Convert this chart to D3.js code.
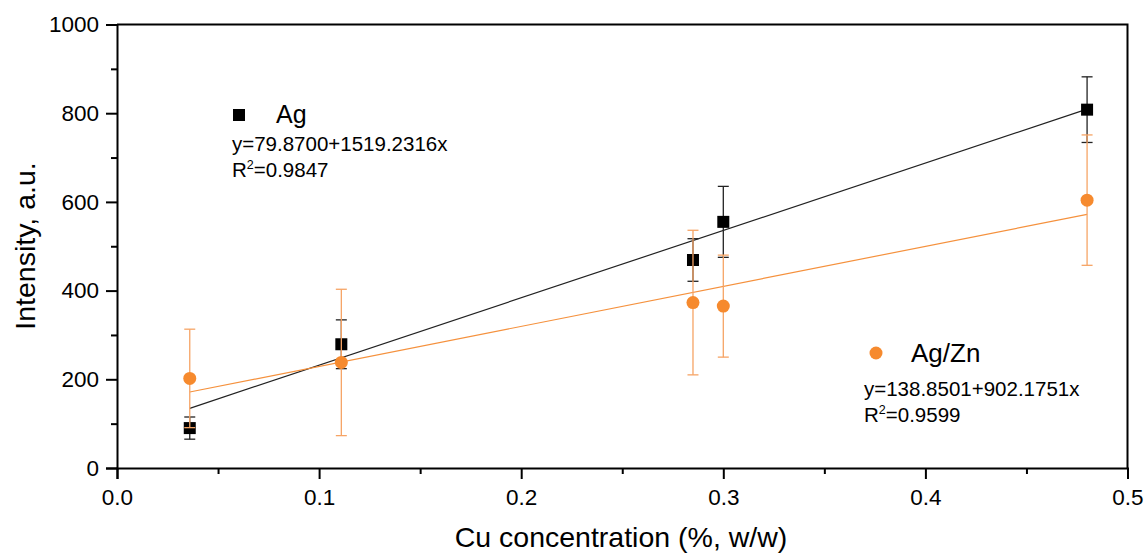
<!DOCTYPE html>
<html>
<head>
<meta charset="utf-8">
<script src="https://cdn.jsdelivr.net/npm/d3@7"></script>
<style>
  html, body { margin: 0; padding: 0; background: #fff; }
  svg { display: block; font-family: "Liberation Sans", Arial, sans-serif; }
</style>
</head>
<body>
<svg id="chart" width="1146" height="554"></svg>
<script>
// ---- data ----
const concentrations = [0.036, 0.111, 0.285, 0.300, 0.480];
const agValues   = [90, 279, 469, 555, 808];
const agErrors   = [25, 55, 48, 80, 74];
const agznValues = [202, 238, 373, 365, 604];
const agznErrors = [111, 165, 163, 115, 147];
const agFit   = { intercept: 79.8700,  slope: 1519.2316, r2: "0.9847" };
const agznFit = { intercept: 138.8501, slope: 902.1751,  r2: "0.9599" };
const xTicks = [0, 0.1, 0.2, 0.3, 0.4, 0.5];
const xMinor = [0.05, 0.15, 0.25, 0.35, 0.45];
const yTicks = [0, 200, 400, 600, 800, 1000];
const yMinor = [100, 300, 500, 700, 900];

const orange = "#f68a2e";
const orangeLight = "#f6a465";
const black = "#000";

const svg = d3.select("#chart");
const pLeft = 117, pRight = 1127.5, pTop = 24.5, pBottom = 468;

const x = d3.scaleLinear().domain([0, 0.5]).range([pLeft, pRight]);
const y = d3.scaleLinear().domain([0, 1000]).range([pBottom, pTop]);

// frame (top and right)
svg.append("path")
  .attr("d", `M${pLeft},${pTop}H${pRight}V${pBottom}`)
  .attr("fill", "none").attr("stroke", "#000").attr("stroke-width", 2);

// axes
const xAxis = d3.axisBottom(x).tickValues(xTicks).tickFormat(d3.format(".1f")).tickSizeOuter(0).tickSize(11).tickPadding(10);
const gx = svg.append("g").attr("transform", `translate(0,${pBottom})`).call(xAxis);
gx.selectAll(".tick text").attr("font-size", 22.5).attr("fill", "#000").attr("font-family", "Liberation Sans, Arial, sans-serif");
const gxm = svg.append("g").attr("transform", `translate(0,${pBottom})`)
  .call(d3.axisBottom(x).tickValues(xMinor).tickSize(6).tickFormat("").tickSizeOuter(0));
gxm.select(".domain").remove();

const yAxis = d3.axisLeft(y).tickValues(yTicks).tickFormat(d3.format("d")).tickSizeOuter(0).tickSize(11).tickPadding(7);
const gy = svg.append("g").attr("transform", `translate(${pLeft},0)`).call(yAxis);
gy.selectAll(".tick text").attr("font-size", 22.5).attr("fill", "#000").attr("font-family", "Liberation Sans, Arial, sans-serif");
const gym = svg.append("g").attr("transform", `translate(${pLeft},0)`)
  .call(d3.axisLeft(y).tickValues(yMinor).tickSize(6).tickFormat("").tickSizeOuter(0));
gym.select(".domain").remove();

svg.selectAll(".domain, .tick line").attr("stroke", "#000").attr("stroke-width", 2);

// axis titles
svg.append("text")
  .attr("x", 621).attr("y", 547)
  .attr("text-anchor", "middle").attr("font-size", 28.5).attr("fill", "#000")
  .text("Cu concentration (%, w/w)");
svg.append("text")
  .attr("transform", `translate(35,${246}) rotate(-90)`)
  .attr("text-anchor", "middle").attr("font-size", 28.5).attr("fill", "#000")
  .text("Intensity, a.u.");

// fit lines
const xMin = d3.min(concentrations), xMax = d3.max(concentrations);
function fitLine(fit, color) {
  svg.append("line")
    .attr("x1", x(xMin)).attr("y1", y(fit.intercept + fit.slope * xMin))
    .attr("x2", x(xMax)).attr("y2", y(fit.intercept + fit.slope * xMax))
    .attr("stroke", color).attr("stroke-width", 1.2);
}
fitLine(agFit, "#222");
fitLine(agznFit, "#f5913d");

// error bars
function errorBars(values, errors, color) {
  const g = svg.append("g").attr("stroke", color).attr("stroke-width", 1.3).attr("fill", "none");
  concentrations.forEach((c, i) => {
    const cx = x(c), y1 = y(values[i] + errors[i]), y0 = y(values[i] - errors[i]);
    g.append("line").attr("x1", cx).attr("x2", cx).attr("y1", y1).attr("y2", y0);
    g.append("line").attr("x1", cx - 5.5).attr("x2", cx + 5.5).attr("y1", y1).attr("y2", y1);
    g.append("line").attr("x1", cx - 5.5).attr("x2", cx + 5.5).attr("y1", y0).attr("y2", y0);
  });
}

errorBars(agValues, agErrors, "#222");
svg.append("g").selectAll("rect").data(concentrations).join("rect")
  .attr("x", d => x(d) - 6).attr("y", (d, i) => y(agValues[i]) - 6)
  .attr("width", 12).attr("height", 12).attr("fill", black);

errorBars(agznValues, agznErrors, orangeLight);
svg.append("g").selectAll("circle").data(concentrations).join("circle")
  .attr("cx", d => x(d)).attr("cy", (d, i) => y(agznValues[i]))
  .attr("r", 6.5).attr("fill", orange);

// legends / annotations
function legend(mx, my, symbol, label, lx, ly, labelSize, fit, ex, ey) {
  if (symbol === "square") {
    svg.append("rect").attr("x", mx - 6).attr("y", my - 6).attr("width", 12).attr("height", 12).attr("fill", black);
  } else {
    svg.append("circle").attr("cx", mx).attr("cy", my).attr("r", 6.5).attr("fill", orange);
  }
  svg.append("text").attr("x", lx).attr("y", ly).attr("font-size", labelSize).attr("fill", "#000").text(label);
  svg.append("text").attr("x", ex).attr("y", ey).attr("font-size", 20.5).attr("fill", "#000")
    .text(`y=${fit.intercept.toFixed(4)}+${fit.slope.toFixed(4)}x`);
  const r = svg.append("text").attr("x", ex).attr("y", ey + 25.5).attr("font-size", 20.5).attr("fill", "#000");
  r.append("tspan").text("R");
  r.append("tspan").attr("dy", -8).attr("font-size", 12.5).text("2");
  r.append("tspan").attr("dy", 8).text("=" + fit.r2);
}
legend(239, 115, "square", "Ag", 276, 123, 25, agFit, 232, 151);
legend(876, 353, "circle", "Ag/Zn", 911, 362, 26, agznFit, 864, 396);
</script>
</body>
</html>
